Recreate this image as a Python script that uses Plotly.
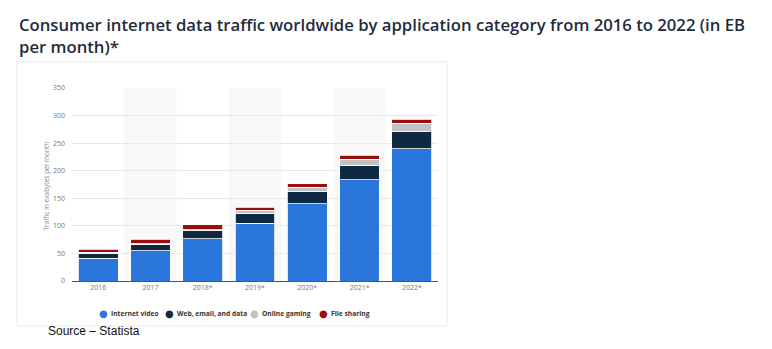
import plotly.graph_objects as go

years = ["2016", "2017", "2018*", "2019*", "2020*", "2021*", "2022*"]
internet_video = [41, 55, 77, 105, 140, 184, 240]
web_email_data = [9, 11.5, 14, 18, 22, 26, 31]
online_gaming = [2, 1.5, 2, 5, 8, 11, 15]
file_sharing = [6, 7.5, 9, 6, 6, 7, 7]
series_names = ["Internet video", "Web, email, and data", "Online gaming", "File sharing"]
series_values = [internet_video, web_email_data, online_gaming, file_sharing]
series_colors = ["#2a76dc", "#0f2943", "#c2c2c2", "#9b0c0c"]
y_ticks = [0, 50, 100, 150, 200, 250, 300, 350]

W, H = 772, 349
L, R, T, B = 72, 334, 88, 68
PW, PH = W - L - R, H - T - B


def px(x):
    return (x - L) / PW


def py(y):
    return (H - B - y) / PH


fig = go.Figure()
for name, vals, col in zip(series_names, series_values, series_colors):
    fig.add_trace(go.Bar(
        x=years, y=vals, name=name, showlegend=False,
        marker=dict(color=col, line=dict(color="white", width=0.8)),
    ))

shapes = [
    dict(type="rect", xref="paper", yref="paper",
         x0=px(17), x1=px(447), y0=py(326), y1=py(62),
         fillcolor="white", line=dict(color="#f4f4f6", width=2), layer="below"),
]
for i in range(1, len(years), 2):
    shapes.append(dict(type="rect", xref="x", yref="y",
                       x0=i - 0.5, x1=i + 0.5, y0=0, y1=350,
                       fillcolor="#f8f8f9", line=dict(width=0), layer="below"))

annotations = [
    dict(text="Consumer internet data traffic worldwide by application category from 2016 to 2022 (in EB<br>per month)*",
         xref="paper", yref="paper", x=px(17), y=py(11), xanchor="left", yanchor="top",
         align="left", showarrow=False,
         font=dict(family="Open Sans", size=16.7, color="#1f2c3c", weight=600)),
    dict(text="Traffic in exabytes per month", xref="paper", yref="paper",
         x=px(39), y=py(186), textangle=-90, showarrow=False,
         font=dict(family="Open Sans", size=6.5, color="#888888")),
    dict(text="Source – Statista", xref="paper", yref="paper",
         x=px(46), y=py(331), xanchor="left", yanchor="middle", showarrow=False,
         font=dict(family="Liberation Sans", size=12, color="#111111")),
]

# custom legend (circle bullets, as in the reference)
legend_dot_x = [103, 169, 254, 323]
for name, col, lx in zip(series_names, series_colors, legend_dot_x):
    annotations.append(dict(
        text="●", xref="paper", yref="paper", x=px(lx), y=py(313.5),
        xanchor="center", yanchor="middle", showarrow=False,
        font=dict(family="DejaVu Sans", size=10, color=col)))
    annotations.append(dict(
        text=f"<b>{name}</b>", xref="paper", yref="paper", x=px(lx + 6), y=py(313),
        xanchor="left", yanchor="middle", showarrow=False,
        font=dict(family="Open Sans", size=6.7, color="#333333")))

fig.update_layout(
    width=W, height=H,
    margin=dict(l=L, r=R, t=T, b=B, pad=0),
    paper_bgcolor="white", plot_bgcolor="rgba(0,0,0,0)",
    barmode="stack", bargap=0.24,
    shapes=shapes, annotations=annotations,
    showlegend=False,
    font=dict(family="Open Sans"),
)
fig.update_xaxes(showgrid=False, showline=True, linecolor="#555555", linewidth=1,
                 ticks="", tickfont=dict(size=7, color="#777777"), fixedrange=True)
fig.update_yaxes(range=[0, 350], tickvals=y_ticks, showgrid=True, gridcolor="#e8e8e8",
                 gridwidth=1, zeroline=False, showline=False,
                 tickfont=dict(size=7, color="#777777"), ticklabelstandoff=6)

fig.write_html("out.html")
